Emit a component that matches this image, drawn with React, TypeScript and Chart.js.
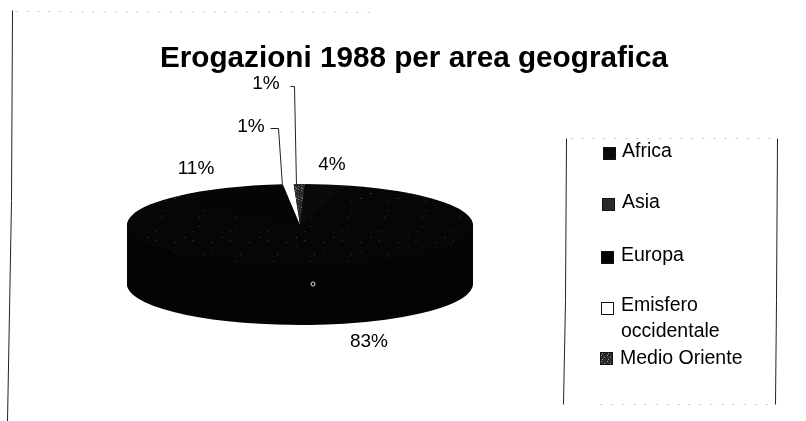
import React, { useEffect, useRef } from "react";
import { Chart, registerables } from "chart.js";

Chart.register(...registerables);

const TITLE = "Erogazioni 1988 per area geografica";
const AREAS = ["Africa", "Asia", "Europa", "Emisfero occidentale", "Medio Oriente"];
const SHARES = [4, 83, 11, 1, 1];
const AREA_LEGEND_LINES = [["Africa"], ["Asia"], ["Europa"], ["Emisfero", "occidentale"], ["Medio Oriente"]];

const FONT = '"Liberation Sans", Arial, sans-serif';
const INK = "#050505";
const PIE_ROTATION = 1.5;
const PIE = { cx: 300, cy: 225, rx: 173, ry: 41, depth: 59 };
const PCT_POS = [
  { x: 332, y: 165 },
  { x: 369, y: 342 },
  { x: 196, y: 169 },
  { x: 251, y: 127 },
  { x: 266, y: 84 },
];
const LEADERS = [
  { index: 3, pts: [[270, 128], [278, 128], [282, 186]] },
  { index: 4, pts: [[290, 86], [294, 86], [296, 186]] },
];
const LEGEND_POS = [
  { bx: 603, by: 147, tx: 622, ty: 152 },
  { bx: 602, by: 198, tx: 622, ty: 203 },
  { bx: 601, by: 251, tx: 621, ty: 256 },
  { bx: 601, by: 302, tx: 621, ty: 306 },
  { bx: 600, by: 352, tx: 620, ty: 359 },
];

function speckle(base: string, dot: string, size: number, dots: number[][]) {
  const tile = document.createElement("canvas");
  tile.width = size;
  tile.height = size;
  const c = tile.getContext("2d")!;
  c.fillStyle = base;
  c.fillRect(0, 0, size, size);
  c.fillStyle = dot;
  dots.forEach(([x, y]) => c.fillRect(x, y, 1, 1));
  return c.createPattern(tile, "repeat")!;
}

const piePlugin = {
  id: "flatPie",
  beforeDatasetDraw(chart: any) {
    const ctx = chart.ctx;
    const arcs = chart.getDatasetMeta(0).data;
    const a0 = arcs[0];
    const R = a0.outerRadius;
    const place = (dy: number) => {
      ctx.translate(PIE.cx, PIE.cy + dy);
      ctx.scale(PIE.rx / R, PIE.ry / R);
      ctx.translate(-a0.x, -a0.y);
    };
    for (let d = PIE.depth; d > 0; d -= 1) {
      ctx.save();
      place(d);
      arcs.forEach((el: any, i: number) => {
        const saved = el.options;
        el.options = { ...saved, backgroundColor: INK };
        el.draw(ctx);
        el.options = saved;
      });
      ctx.restore();
    }
    ctx.save();
    place(0);
  },
  afterDatasetDraw(chart: any) {
    chart.ctx.restore();
  },
  afterDraw(chart: any) {
    const ctx = chart.ctx;
    const labels = chart.data.datasets[0].data;
    ctx.save();
    ctx.strokeStyle = "#222";
    ctx.lineWidth = 1;
    const line = (pts: number[][]) => {
      ctx.beginPath();
      pts.forEach(([x, y], i) => (i ? ctx.lineTo(x + 0.5, y + 0.5) : ctx.moveTo(x + 0.5, y + 0.5)));
      ctx.stroke();
    };
    line([[12, 10], [11, 200], [7, 421]]);
    line([[566, 138], [565, 300], [563, 404]]);
    line([[777, 138], [776, 300], [775, 404]]);
    ctx.strokeStyle = "rgba(120,120,120,0.45)";
    ctx.setLineDash([2, 9]);
    line([[15, 11], [370, 12]]);
    line([[570, 138], [770, 138]]);
    line([[600, 404], [770, 404]]);
    ctx.setLineDash([]);
    ctx.strokeStyle = "#222";
    LEADERS.forEach((l) => line(l.pts));
    ctx.fillStyle = "#000";
    ctx.font = `19px ${FONT}`;
    ctx.textAlign = "center";
    ctx.textBaseline = "middle";
    labels.forEach((v: number, i: number) => ctx.fillText(`${v}%`, PCT_POS[i].x, PCT_POS[i].y));
    ctx.strokeStyle = "#ddd";
    ctx.lineWidth = 1;
    ctx.beginPath();
    ctx.arc(313, 284, 2, 0, Math.PI * 2);
    ctx.stroke();
    const colors = chart.data.datasets[0].backgroundColor;
    ctx.textAlign = "left";
    ctx.font = `19.5px ${FONT}`;
    AREA_LEGEND_LINES.forEach((lines, i) => {
      const p = LEGEND_POS[i];
      ctx.fillStyle = i === 1 ? "#2b2b2b" : colors[i];
      ctx.fillRect(p.bx, p.by, 13, 13);
      ctx.strokeStyle = "#111";
      ctx.lineWidth = 1;
      ctx.strokeRect(p.bx + 0.5, p.by + 0.5, 12, 12);
      ctx.fillStyle = "#000";
      lines.forEach((t, k) => ctx.fillText(t, p.tx, p.ty + k * 26));
    });
    ctx.restore();
  },
};

export default function App() {
  const ref = useRef<HTMLCanvasElement>(null);
  useEffect(() => {
    const colors = [
      "#0a0a0a",
      speckle("#060606", "#5a5a5a", 37, [[3, 5], [21, 2], [11, 17], [30, 26], [17, 32]]),
      INK,
      "#ffffff",
      speckle("#2a2a2a", "#9a9a9a", 6, [[1, 1], [4, 3], [2, 5]]),
    ];
    const chart = new Chart(ref.current!, {
      type: "pie",
      data: {
        labels: AREAS,
        datasets: [{ data: SHARES, backgroundColor: colors as any, borderWidth: 0, clip: false as any }],
      },
      options: {
        responsive: false,
        animation: false,
        rotation: PIE_ROTATION,
        layout: { padding: { left: 22, right: 0, top: 0, bottom: 0 } },
        plugins: {
          legend: { display: false },
          tooltip: { enabled: false },
          title: {
            display: true,
            text: TITLE,
            color: "#000",
            font: { family: FONT, size: 29.7, weight: "bold", lineHeight: 1.2 },
            padding: { top: 41, bottom: 0 },
          },
        },
      },
      plugins: [piePlugin as any],
    });
    return () => chart.destroy();
  }, []);
  return (
    <canvas
      ref={ref}
      width={806}
      height={421}
      style={{ position: "absolute", left: 0, top: 0, display: "block" }}
    />
  );
}
